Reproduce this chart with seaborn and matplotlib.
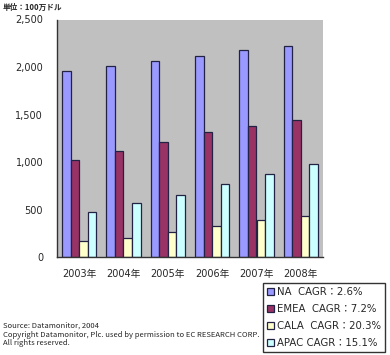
import matplotlib
matplotlib.use("Agg")
import matplotlib.pyplot as plt
import seaborn as sns
import pandas as pd
import numpy as np
from matplotlib.ticker import FuncFormatter, FixedLocator

# data (unit: 1 million USD)
years = ["2003年", "2004年", "2005年", "2006年", "2007年", "2008年"]
regions = ["NA  CAGR：2.6%", "EMEA  CAGR：7.2%", "CALA  CAGR：20.3%", "APAC CAGR：15.1%"]
na_values = [1955, 2010, 2065, 2120, 2175, 2220]
emea_values = [1020, 1115, 1215, 1315, 1380, 1440]
cala_values = [168, 203, 260, 330, 389, 432]
apac_values = [474, 565, 656, 765, 874, 976]
colors = ["#9999FF", "#993366", "#FFFFCC", "#CCFFFF"]

rows = []
for reg, vals in zip(regions, [na_values, emea_values, cala_values, apac_values]):
    for y, v in zip(years, vals):
        rows.append({"year": y, "region": reg, "value": v})
df = pd.DataFrame(rows)

sns.set_style("white")
plt.rcParams['font.family'] = ['DejaVu Sans', 'Noto Sans CJK JP']

fig = plt.figure(figsize=(3.9, 3.55), dpi=100)
ax = fig.add_axes([57 / 390, 1 - 257 / 355, (323 - 57) / 390, (257 - 19.5) / 355])
ax.set_facecolor("#C0C0C0")

sns.barplot(data=df, x="year", y="value", hue="region", order=years, hue_order=regions,
            palette=colors, edgecolor="#222244", linewidth=0.9, width=0.77, ax=ax,
            saturation=1, legend=True)

ax.set_xlim(-0.5, 5.5)
ax.set_ylim(0, 2500)
ax.set_yticks(np.arange(0, 2501, 500))
ax.yaxis.set_major_formatter(FuncFormatter(lambda v, p: "{:,.0f}".format(v)))
ax.set_xlabel("")
ax.set_ylabel("")

# tick marks at the category boundaries, pointing into the plot
ax.xaxis.set_minor_locator(FixedLocator(np.arange(0.5, 5.0, 1.0)))
ax.tick_params(axis="x", which="major", length=0, labelsize=7, pad=9)
ax.tick_params(axis="x", which="minor", direction="in", length=3, width=0.8, color="#333333")
ax.tick_params(axis="y", which="major", direction="in", length=3, width=0.8,
               color="#333333", labelsize=7, pad=10)

for side in ["top", "right"]:
    ax.spines[side].set_visible(False)
for side in ["left", "bottom"]:
    ax.spines[side].set_color("#333333")
    ax.spines[side].set_linewidth(1.0)

handles, labels = ax.get_legend_handles_labels()
ax.get_legend().remove()
leg = fig.legend(handles, labels, loc="upper left", bbox_to_anchor=(263 / 390, 1 - 283 / 355),
                 bbox_transform=fig.transFigure, fontsize=7.3, frameon=True, fancybox=False,
                 handlelength=0.7, handleheight=0.7, handletextpad=0.3, labelspacing=0.7,
                 borderpad=0.4, borderaxespad=0)
leg.get_frame().set_edgecolor("black")
leg.get_frame().set_linewidth(1.0)

fig.text(3 / 390, 1 - 7 / 355, "単位：100万ドル", fontsize=5.5, fontweight="bold",
         va="center", ha="left", family=['Noto Sans CJK JP', 'DejaVu Sans'])
fig.text(3 / 390, 1 - 322 / 355,
         "Source: Datamonitor, 2004\n"
         "Copyright Datamonitor, Plc. used by permission to EC RESEARCH CORP.\n"
         "All rights reserved.",
         fontsize=5.5, va="top", ha="left", linespacing=1.1,
         family=['Noto Sans CJK JP', 'DejaVu Sans'])

fig.savefig("out.png", dpi=100)
